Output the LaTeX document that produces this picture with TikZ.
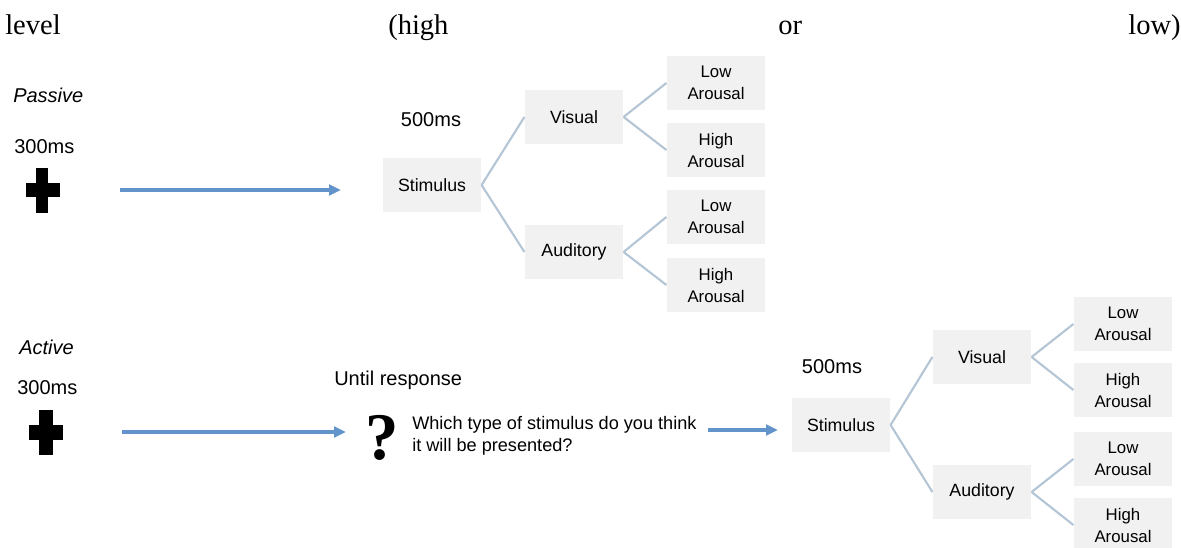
\documentclass[tikz,border=0pt]{standalone}
\usepackage{fontspec}
\setmainfont{Liberation Sans}
\newfontfamily\seriffont{Liberation Serif}
\usetikzlibrary{arrows.meta}
\definecolor{arrowblue}{RGB}{98,148,203}
\definecolor{branchline}{RGB}{180,198,214}
\definecolor{boxfill}{RGB}{241,241,241}
\begin{document}
\begin{tikzpicture}[x=0.75pt,y=-0.75pt,
  box/.style={fill=boxfill,draw=none,minimum width=74pt,minimum height=41pt,inner sep=1pt,align=center,font=\fontsize{13.3pt}{16pt}\selectfont},
  abox/.style={box,minimum height=40.5pt,font=\fontsize{12.6pt}{16.5pt}\selectfont},
  lbl/.style={inner sep=0pt,font=\fontsize{15pt}{18pt}\selectfont},
  branch/.style={draw=branchline,line width=1.6pt},
  flow/.style={draw=arrowblue,line width=2.6pt,-{Triangle[length=9pt,width=8pt]}},
  crossbar/.style={fill=black,draw=none},
  doc/.style={inner sep=0pt,anchor=base west,font=\seriffont\fontsize{21.4pt}{25pt}\selectfont}]
\useasboundingbox (0,0) rectangle (1181,548);

% document text line
\node[doc] (d1) at (5,35) {level};
\node[doc] (d2) at (388,35) {(high};
\node[doc] (d3) at (778,35) {or};
\node[doc,anchor=base east] (d4) at (1181,35) {low)};

% ---------- Passive ----------
\node[lbl,anchor=west,font=\itshape\fontsize{15pt}{18pt}\selectfont] (passive) at (13,95) {Passive};
\node[lbl,anchor=west] (p300) at (14,147) {300ms};
\fill[crossbar] (36,168) rectangle (48,213);
\fill[crossbar] (26,183) rectangle (60,197);
\coordinate (pa1) at (120,190);
\coordinate (pa2) at (341,190);
\draw[flow] (pa1) -- (pa2);

\node[lbl] (p500) at (431,120) {500ms};
\node[box] (pstim) at (432,185) {Stimulus};
\node[box] (pvis) at (574,117) {Visual};
\node[box] (paud) at (574,252) {Auditory};
\node[abox] (pvl) at (716,83) {Low\\Arousal};
\node[abox] (pvh) at (716,150) {High\\Arousal};
\node[abox] (pal) at (716,217) {Low\\Arousal};
\node[abox] (pah) at (716,285) {High\\Arousal};
\draw[branch] (pstim.east) -- (pvis.west);
\draw[branch] (pstim.east) -- (paud.west);
\draw[branch] (pvis.east) -- (pvl.west);
\draw[branch] (pvis.east) -- (pvh.west);
\draw[branch] (paud.east) -- (pal.west);
\draw[branch] (paud.east) -- (pah.west);

% ---------- Active ----------
\node[lbl,anchor=west,font=\itshape\fontsize{15pt}{18pt}\selectfont] (active) at (19,347) {Active};
\node[lbl,anchor=west] (a300) at (17,388) {300ms};
\fill[crossbar] (39,410) rectangle (53,455);
\fill[crossbar] (29,425) rectangle (63,440);
\coordinate (aa1) at (122,432);
\coordinate (aa2) at (346,432);
\draw[flow] (aa1) -- (aa2);

\node[lbl,anchor=west] (until) at (334,380) {Until response};
\node[inner sep=0pt,font=\seriffont\bfseries\fontsize{50pt}{50pt}\selectfont] (qm) at (382,438) {?};
\node[inner sep=0pt,anchor=west,align=left,font=\fontsize{13.6pt}{16.5pt}\selectfont] (question) at (412,436) {Which type of stimulus do you think\\it will be presented?};

\node[lbl] (a500) at (832,367) {500ms};
\node[box] (astim) at (841,425) {Stimulus};
\node[box] (avis) at (982,357) {Visual};
\node[box] (aaud) at (982,492) {Auditory};
\node[abox] (avl) at (1123,324) {Low\\Arousal};
\node[abox] (avh) at (1123,390) {High\\Arousal};
\node[abox] (aal) at (1123,459) {Low\\Arousal};
\node[abox] (aah) at (1123,525) {High\\Arousal};
\draw[branch] (astim.east) -- (avis.west);
\draw[branch] (astim.east) -- (aaud.west);
\draw[branch] (avis.east) -- (avl.west);
\draw[branch] (avis.east) -- (avh.west);
\draw[branch] (aaud.east) -- (aal.west);
\draw[branch] (aaud.east) -- (aah.west);

\coordinate (qa1) at (708,430);
\coordinate (qa2) at (778,430);
\draw[flow] (qa1) -- (qa2);
\end{tikzpicture}
\end{document}
